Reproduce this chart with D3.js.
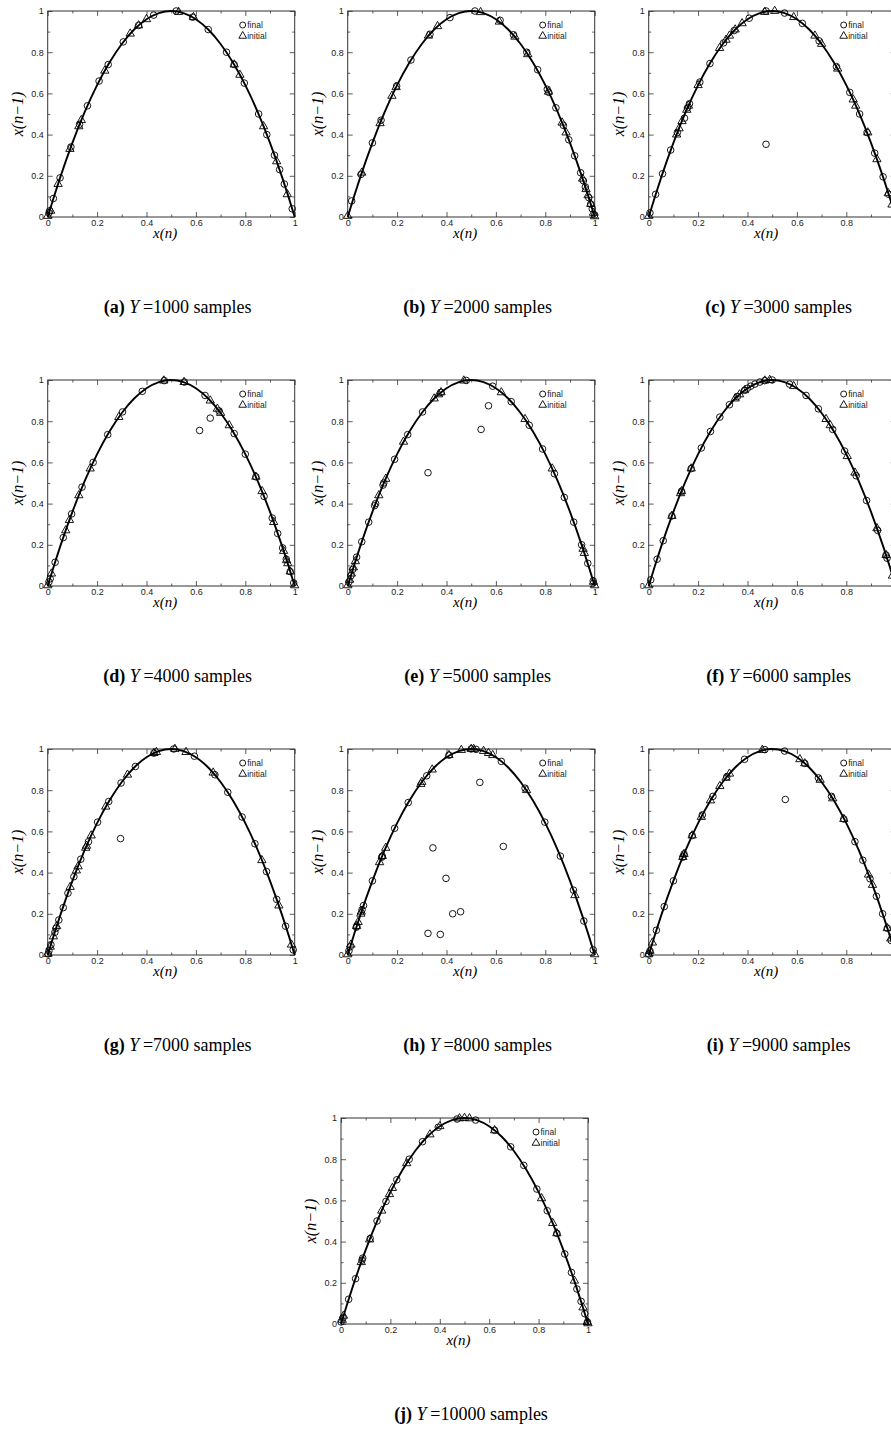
<!DOCTYPE html>
<html>
<head>
<meta charset="utf-8">
<script src="https://cdn.jsdelivr.net/npm/d3@7"></script>
<style>
  body { margin: 0; background: #fff; }
  svg { display: block; }
</style>
</head>
<body>
<svg id="fig" width="891" height="1432"></svg>
<script>
// ---- data -------------------------------------------------------------
const panelLetters = ["a", "b", "c", "d", "e", "f", "g", "h", "i", "j"];
const sampleCounts = [1000, 2000, 3000, 4000, 5000, 6000, 7000, 8000, 9000, 10000];
const tickValues = [0, 0.2, 0.4, 0.6, 0.8, 1];
const tickLabels = ["0", "0.2", "0.4", "0.6", "0.8", "1"];
const minorTickValues = [0.1, 0.3, 0.5, 0.7, 0.9];
const legendLabels = ["final", "initial"];

// reference map curve x(n-1) against x(n)
const curveX = [0, 0.025, 0.05, 0.1, 0.15, 0.2, 0.25, 0.3, 0.35, 0.4, 0.45, 0.5,
                0.55, 0.6, 0.65, 0.7, 0.75, 0.8, 0.85, 0.9, 0.95, 0.975, 1];
const curveY = [0, 0.0975, 0.19, 0.36, 0.51, 0.64, 0.75, 0.84, 0.91, 0.96, 0.99, 1,
                0.99, 0.96, 0.91, 0.84, 0.75, 0.64, 0.51, 0.36, 0.19, 0.0975, 0];

// point pairs [x(n), x(n-1)]
const finalA = [[0.005,0.02],[0.008,0.03],[0.023,0.09],[0.05,0.19],[0.094,0.34],[0.129,0.45],[0.161,0.54],[0.208,0.66],[0.245,0.74],[0.306,0.85],[0.368,0.93],[0.429,0.98],[0.52,1.0],[0.587,0.97],[0.65,0.91],[0.724,0.80],[0.755,0.74],[0.796,0.65],[0.854,0.50],[0.887,0.40],[0.918,0.30],[0.939,0.23],[0.958,0.16],[0.99,0.04]];
const initialA = [[0.0,0.005],[0.012,0.03],[0.042,0.16],[0.09,0.33],[0.126,0.44],[0.136,0.47],[0.231,0.71],[0.334,0.89],[0.368,0.93],[0.4,0.96],[0.53,0.995],[0.59,0.97],[0.755,0.74],[0.778,0.69],[0.874,0.44],[0.927,0.27],[0.97,0.11]];

const finalB = [[0.016,0.078],[0.054,0.207],[0.1,0.36],[0.135,0.47],[0.198,0.636],[0.256,0.762],[0.333,0.887],[0.414,0.968],[0.515,1.0],[0.617,0.955],[0.671,0.885],[0.725,0.80],[0.769,0.715],[0.808,0.62],[0.814,0.605],[0.843,0.53],[0.873,0.445],[0.895,0.375],[0.919,0.297],[0.943,0.215],[0.954,0.176],[0.962,0.146],[0.976,0.094],[0.984,0.063],[0.99,0.04],[1.0,0.01]];
const initialB = [[0.0,0.005],[0.057,0.215],[0.131,0.455],[0.179,0.588],[0.196,0.63],[0.327,0.88],[0.364,0.926],[0.538,0.994],[0.614,0.948],[0.677,0.875],[0.729,0.79],[0.813,0.608],[0.868,0.458],[0.884,0.41],[0.951,0.186],[0.965,0.135],[0.973,0.105],[0.984,0.063],[0.995,0.02],[1.0,0.003]];

const finalC = [[0.005,0.02],[0.028,0.11],[0.056,0.21],[0.089,0.325],[0.116,0.41],[0.145,0.48],[0.157,0.53],[0.165,0.55],[0.207,0.655],[0.248,0.745],[0.303,0.845],[0.346,0.905],[0.407,0.965],[0.475,1.0],[0.55,0.99],[0.622,0.94],[0.69,0.855],[0.76,0.73],[0.814,0.605],[0.854,0.50],[0.884,0.41],[0.915,0.31],[0.949,0.195],[0.972,0.11],[0.475,0.353]];
const initialC = [[0.0,0.005],[0.113,0.40],[0.123,0.43],[0.135,0.465],[0.154,0.52],[0.161,0.54],[0.2,0.64],[0.287,0.82],[0.313,0.86],[0.327,0.88],[0.35,0.91],[0.378,0.94],[0.47,0.995],[0.51,1.0],[0.587,0.97],[0.673,0.88],[0.7,0.84],[0.765,0.72],[0.828,0.57],[0.838,0.54],[0.887,0.41],[0.924,0.28],[0.97,0.115],[0.985,0.06]];

const finalD = [[0.005,0.02],[0.01,0.035],[0.03,0.115],[0.063,0.235],[0.097,0.35],[0.139,0.48],[0.184,0.60],[0.243,0.735],[0.303,0.845],[0.383,0.945],[0.472,0.997],[0.553,0.99],[0.637,0.925],[0.694,0.85],[0.755,0.74],[0.8,0.64],[0.843,0.53],[0.876,0.435],[0.909,0.33],[0.931,0.255],[0.951,0.185],[0.966,0.13],[0.982,0.07],[0.996,0.015],[0.615,0.755],[0.658,0.815]];
const initialD = [[0.0,0.003],[0.015,0.06],[0.073,0.27],[0.088,0.32],[0.126,0.44],[0.172,0.57],[0.288,0.82],[0.47,0.997],[0.552,0.99],[0.658,0.90],[0.687,0.86],[0.7,0.84],[0.735,0.78],[0.843,0.53],[0.868,0.46],[0.915,0.31],[0.955,0.17],[0.967,0.125],[0.972,0.11],[0.982,0.07],[1.0,0.003]];

const finalE = [[0.005,0.02],[0.013,0.05],[0.02,0.08],[0.036,0.14],[0.057,0.215],[0.085,0.31],[0.109,0.39],[0.113,0.40],[0.143,0.49],[0.146,0.50],[0.19,0.615],[0.243,0.735],[0.303,0.845],[0.378,0.94],[0.48,0.998],[0.587,0.97],[0.662,0.895],[0.735,0.78],[0.789,0.665],[0.837,0.545],[0.877,0.43],[0.915,0.31],[0.947,0.20],[0.972,0.11],[0.994,0.025],[0.325,0.55],[0.54,0.76],[0.57,0.875]];
const initialE = [[0.0,0.003],[0.008,0.03],[0.015,0.06],[0.023,0.09],[0.031,0.12],[0.126,0.44],[0.154,0.52],[0.226,0.70],[0.35,0.91],[0.368,0.93],[0.378,0.94],[0.47,0.997],[0.622,0.94],[0.718,0.81],[0.828,0.57],[0.953,0.18],[0.958,0.16],[0.995,0.02],[1.0,0.003]];

const finalF = [[0.008,0.03],[0.034,0.13],[0.059,0.22],[0.094,0.34],[0.133,0.46],[0.172,0.57],[0.213,0.67],[0.25,0.75],[0.288,0.82],[0.327,0.88],[0.359,0.92],[0.388,0.95],[0.4,0.96],[0.413,0.97],[0.43,0.98],[0.45,0.99],[0.47,0.997],[0.5,1.0],[0.57,0.98],[0.637,0.925],[0.687,0.86],[0.745,0.76],[0.793,0.655],[0.84,0.535],[0.882,0.415],[0.927,0.27],[0.961,0.15],[0.965,0.135]];
const initialF = [[0.0,0.003],[0.094,0.34],[0.129,0.45],[0.133,0.46],[0.172,0.57],[0.35,0.91],[0.368,0.93],[0.388,0.95],[0.47,0.997],[0.49,1.0],[0.587,0.97],[0.718,0.81],[0.735,0.78],[0.804,0.63],[0.835,0.55],[0.924,0.28],[0.961,0.15],[0.987,0.05]];

const finalG = [[0.002,0.005],[0.005,0.02],[0.013,0.05],[0.029,0.11],[0.034,0.13],[0.045,0.17],[0.063,0.23],[0.082,0.30],[0.106,0.38],[0.134,0.465],[0.165,0.55],[0.202,0.645],[0.247,0.745],[0.297,0.835],[0.355,0.915],[0.43,0.98],[0.51,1.0],[0.594,0.965],[0.677,0.875],[0.729,0.79],[0.787,0.67],[0.839,0.54],[0.886,0.405],[0.927,0.27],[0.963,0.14],[0.994,0.025],[0.295,0.565]];
const initialG = [[0.0,0.005],[0.01,0.04],[0.023,0.09],[0.036,0.14],[0.091,0.33],[0.116,0.41],[0.123,0.43],[0.154,0.52],[0.157,0.53],[0.176,0.58],[0.235,0.72],[0.323,0.875],[0.43,0.98],[0.44,0.985],[0.515,1.0],[0.56,0.985],[0.67,0.885],[0.867,0.46],[0.936,0.24],[0.987,0.05]];

const finalH = [[0.005,0.02],[0.01,0.04],[0.035,0.135],[0.037,0.14],[0.058,0.22],[0.064,0.24],[0.1,0.36],[0.138,0.475],[0.14,0.48],[0.19,0.615],[0.245,0.74],[0.32,0.87],[0.41,0.97],[0.5,1.0],[0.52,0.998],[0.622,0.94],[0.718,0.81],[0.798,0.645],[0.861,0.48],[0.914,0.315],[0.956,0.165],[0.994,0.025],[0.325,0.105],[0.345,0.52],[0.375,0.10],[0.398,0.372],[0.425,0.20],[0.457,0.21],[0.535,0.838],[0.63,0.527]];
const initialH = [[0.0,0.003],[0.013,0.05],[0.036,0.14],[0.042,0.16],[0.053,0.20],[0.055,0.21],[0.129,0.45],[0.14,0.48],[0.154,0.52],[0.296,0.83],[0.3,0.84],[0.342,0.90],[0.41,0.97],[0.46,0.995],[0.5,1.0],[0.51,1.0],[0.55,0.99],[0.57,0.98],[0.587,0.97],[0.724,0.80],[0.92,0.29],[1.0,0.003]];

const finalI = [[0.0,0.005],[0.005,0.02],[0.031,0.12],[0.063,0.235],[0.1,0.36],[0.138,0.475],[0.143,0.49],[0.176,0.58],[0.217,0.68],[0.26,0.77],[0.316,0.865],[0.388,0.95],[0.47,0.997],[0.55,0.99],[0.632,0.93],[0.687,0.86],[0.74,0.77],[0.79,0.66],[0.835,0.55],[0.867,0.46],[0.896,0.37],[0.922,0.285],[0.947,0.20],[0.966,0.13],[0.982,0.07],[0.553,0.755]];
const initialI = [[0.0,0.003],[0.005,0.02],[0.015,0.06],[0.138,0.475],[0.143,0.49],[0.176,0.58],[0.213,0.67],[0.25,0.75],[0.288,0.82],[0.313,0.86],[0.327,0.88],[0.46,0.995],[0.612,0.95],[0.632,0.93],[0.694,0.85],[0.745,0.76],[0.79,0.66],[0.89,0.39],[0.906,0.34],[0.966,0.13],[0.98,0.08]];

const finalJ = [[0.0,0.01],[0.008,0.03],[0.031,0.12],[0.059,0.22],[0.085,0.31],[0.088,0.32],[0.118,0.415],[0.146,0.50],[0.182,0.595],[0.226,0.70],[0.276,0.80],[0.33,0.885],[0.394,0.955],[0.47,0.995],[0.545,0.99],[0.622,0.94],[0.687,0.86],[0.74,0.77],[0.793,0.655],[0.835,0.55],[0.874,0.44],[0.906,0.34],[0.933,0.25],[0.955,0.17],[0.972,0.11],[0.987,0.05],[0.998,0.01]];
const initialJ = [[0.005,0.02],[0.01,0.04],[0.082,0.30],[0.116,0.41],[0.165,0.55],[0.196,0.63],[0.208,0.66],[0.266,0.78],[0.36,0.92],[0.4,0.96],[0.48,0.998],[0.5,1.0],[0.52,0.998],[0.622,0.94],[0.812,0.61],[0.857,0.49],[0.874,0.44],[0.945,0.21],[0.98,0.08],[0.997,0.01],[1.0,0.003]];

const finalSets = [finalA, finalB, finalC, finalD, finalE, finalF, finalG, finalH, finalI, finalJ];
const initialSets = [initialA, initialB, initialC, initialD, initialE, initialF, initialG, initialH, initialI, initialJ];

// ---- layout -----------------------------------------------------------
const figW = 891, figH = 1432;
const W = 247, H = 206;
const colLeft = [47.7, 347.7, 648.7];
const rowTop = [11, 380, 749, 1118];
const lastLeft = 341;

const sans = "'Liberation Sans', Arial, Helvetica, sans-serif";
const serif = "'Liberation Serif', 'Times New Roman', Times, serif";

const svg = d3.select("#fig");
svg.append("rect").attr("width", figW).attr("height", figH).attr("fill", "#fff");

const curvePts = curveX.map((x, i) => [x, curveY[i]]);
const triangle = d3.symbol().type(d3.symbolTriangle).size(30);

function drawPanel(k) {
  const row = Math.floor(k / 3), col = k % 3;
  const left = k === 9 ? lastLeft : colLeft[col];
  const top = rowTop[row];
  const g = svg.append("g").attr("transform", `translate(${left},${top})`);

  const x = d3.scaleLinear().domain([0, 1]).range([0, W]);
  const y = d3.scaleLinear().domain([0, 1]).range([H, 0]);

  // tick labels that would land past the page edge are left blank
  const fmtX = (d, i) => (left + x(d) + 4 > figW ? "" : tickLabels[i]);
  const fmtY = (d, i) => tickLabels[i];

  // inward ticks on all four sides, labels on bottom and left
  const axes = [
    [d3.axisBottom(x).tickValues(tickValues).tickFormat(fmtX).tickPadding(3), `translate(0,${H})`],
    [d3.axisLeft(y).tickValues(tickValues).tickFormat(fmtY).tickPadding(4), null],
    [d3.axisTop(x).tickValues(tickValues).tickFormat(""), null],
    [d3.axisRight(y).tickValues(tickValues).tickFormat(""), `translate(${W},0)`],
    [d3.axisBottom(x).tickValues(minorTickValues).tickFormat("").tickSizeInner(-2.5), `translate(0,${H})`],
    [d3.axisLeft(y).tickValues(minorTickValues).tickFormat("").tickSizeInner(-2.5), null],
    [d3.axisTop(x).tickValues(minorTickValues).tickFormat("").tickSizeInner(-2.5), null],
    [d3.axisRight(y).tickValues(minorTickValues).tickFormat("").tickSizeInner(-2.5), `translate(${W},0)`]
  ];
  axes.forEach(([ax, tr], i) => {
    if (i < 4) ax.tickSizeInner(-5);
    ax.tickSizeOuter(0);
    const a = g.append("g").call(ax);
    if (tr) a.attr("transform", tr);
    a.select(".domain").remove();
    a.selectAll("line").attr("stroke", "#333").attr("stroke-width", 0.8);
    a.selectAll("text").attr("font-family", sans).attr("font-size", 9).attr("fill", "#222");
    a.selectAll("text").filter(function () { return this.textContent === ""; }).remove();
  });

  g.append("rect").attr("width", W).attr("height", H)
    .attr("fill", "none").attr("stroke", "#333").attr("stroke-width", 1);

  // map curve
  g.append("path")
    .datum(curvePts)
    .attr("d", d3.line().x(d => x(d[0])).y(d => y(d[1])).curve(d3.curveMonotoneX))
    .attr("fill", "none").attr("stroke", "#000").attr("stroke-width", 1.9);

  // initial samples (triangles)
  g.append("g").selectAll("path").data(initialSets[k]).join("path")
    .attr("d", triangle)
    .attr("transform", d => `translate(${x(d[0])},${y(d[1])})`)
    .attr("fill", "none").attr("stroke", "#000").attr("stroke-width", 0.9);

  // final samples (circles)
  g.append("g").selectAll("circle").data(finalSets[k]).join("circle")
    .attr("cx", d => x(d[0])).attr("cy", d => y(d[1])).attr("r", 3.3)
    .attr("fill", "none").attr("stroke", "#000").attr("stroke-width", 0.9);

  // legend
  const lg = g.append("g").attr("transform", `translate(195,14)`);
  lg.append("circle").attr("cx", 0).attr("cy", 0).attr("r", 3)
    .attr("fill", "none").attr("stroke", "#000").attr("stroke-width", 0.9);
  lg.append("path").attr("d", d3.symbol().type(d3.symbolTriangle).size(26))
    .attr("transform", "translate(0,11)")
    .attr("fill", "none").attr("stroke", "#000").attr("stroke-width", 0.9);
  legendLabels.forEach((t, i) => {
    lg.append("text").attr("x", 4.5).attr("y", i * 11 + 3.2).text(t)
      .attr("font-family", sans).attr("font-size", 8.5).attr("fill", "#222");
  });

  // axis titles
  g.append("text").attr("x", W / 2 - 6).attr("y", H + 21)
    .attr("text-anchor", "middle").attr("font-family", serif)
    .attr("font-style", "italic").attr("font-size", 15).text("x(n)");
  g.append("text").attr("transform", `translate(-25,${H / 2}) rotate(-90)`)
    .attr("text-anchor", "middle").attr("font-family", serif)
    .attr("font-style", "italic").attr("font-size", 16).text("x(n\u22121)");

  // sub-caption
  const cap = g.append("text").attr("x", 130).attr("y", 302)
    .attr("text-anchor", "middle").attr("font-family", serif).attr("font-size", 18);
  cap.append("tspan").attr("font-weight", "bold").text(`(${panelLetters[k]})`);
  cap.append("tspan").text(" ");
  cap.append("tspan").attr("font-style", "italic").text("Y");
  cap.append("tspan").text(`\u2009=${sampleCounts[k]} samples`);
}

panelLetters.forEach((_, k) => drawPanel(k));
</script>
</body>
</html>
